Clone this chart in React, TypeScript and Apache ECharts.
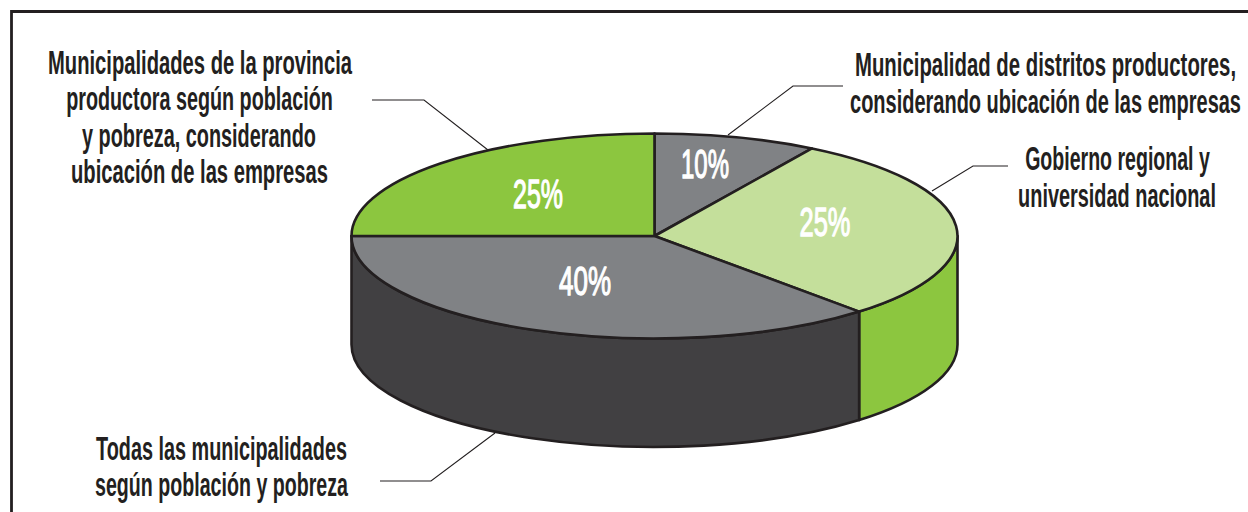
import React, { useEffect, useRef } from "react";
import * as echarts from "echarts";

// Printed percentages, as the labels read
const categories = [
  "Municipalidad de distritos productores",
  "Gobierno regional y universidad nacional",
  "Todas las municipalidades",
  "Municipalidades de la provincia",
];
const percentLabels = ["10%", "25%", "40%", "25%"];
// Slice shares as actually drawn in the picture (the drawing is not to scale)
const drawnShares = [8.7, 29.5, 36.8, 25];

const callout1 = ["Municipalidades de la provincia", "productora según población", "y pobreza, considerando", "ubicación de las empresas"];
const callout2 = ["Municipalidad de distritos productores,", "considerando ubicación de las empresas"];
const callout3 = ["Gobierno regional y", "universidad nacional"];
const callout4 = ["Todas las municipalidades", "según población y pobreza"];

const INK = "#231f20";
const topColors = ["#808285", "#c4df9b", "#808285", "#8cc63f"];
const sideColors = ["#808285", "#8cc63f", "#414042", "#8cc63f"];
const CX = 654.5, CY = 236, RX = 303, RY = 102.5, DEPTH = 108.5;
const FONT = '"Liberation Sans Narrow", "Liberation Sans", sans-serif';

// [centerX, baseline, width] per line
const calloutLayout: [string[], [number, number, number][]][] = [
  [callout1, [[200, 74, 304], [199.5, 110, 267], [199, 146.5, 234], [199.5, 182.5, 257]]],
  [callout2, [[1045.5, 76, 381], [1045.5, 112.5, 391]]],
  [callout3, [[1117.5, 170, 185], [1117, 206.5, 198]]],
  [callout4, [[221.5, 460, 251], [221.5, 496, 253]]],
];
const percentLayout: [number, number, number][] = [
  [705, 178, 48],
  [825, 236, 51],
  [585, 295, 52],
  [538, 208, 50],
];
const leaders = [
  [[372, 100], [424, 100], [488, 150]],
  [[843, 86], [793, 86], [728, 135]],
  [[1008, 166], [973, 166], [932, 191]],
  [[380, 481], [431, 481], [495, 433]],
];

const measureCtx = document.createElement("canvas").getContext("2d")!;
function fit(text: string, font: string, width: number) {
  measureCtx.font = font;
  return width / measureCtx.measureText(text).width;
}
const pt = (t: number, dy = 0): [number, number] => [CX + RX * Math.sin(t), CY - RY * Math.cos(t) + dy];

function renderItem(params: any, api: any) {
  const i = params.dataIndex;
  const total = drawnShares.reduce((a, b) => a + b, 0);
  const before = drawnShares.slice(0, i).reduce((a, b) => a + b, 0);
  const t1 = (before / total) * Math.PI * 2;
  const t2 = ((before + api.value(0)) / total) * Math.PI * 2;
  const [x1, y1] = pt(t1);
  const [x2, y2] = pt(t2);
  const large = t2 - t1 > Math.PI ? 1 : 0;
  const children: any[] = [];
  // Visible wall: the part of the arc on the front half of the ellipse
  const s1 = Math.max(t1, Math.PI / 2);
  const s2 = Math.min(t2, (Math.PI * 3) / 2);
  if (s2 > s1) {
    const [a, b] = pt(s1);
    const [c, d] = pt(s2);
    children.push({
      type: "path",
      z2: 1,
      shape: { pathData: `M${a} ${b}A${RX} ${RY} 0 0 1 ${c} ${d}L${c} ${d + DEPTH}A${RX} ${RY} 0 0 0 ${a} ${b + DEPTH}Z` },
      style: { fill: sideColors[i], stroke: INK, lineWidth: 2.6, lineJoin: "round" },
    });
  }
  children.push({
    type: "path",
    z2: 2,
    shape: { pathData: `M${CX} ${CY}L${x1} ${y1}A${RX} ${RY} 0 ${large} 1 ${x2} ${y2}Z` },
    style: { fill: topColors[i], stroke: INK, lineWidth: 2.6, lineJoin: "round" },
  });
  const [lx, ly, lw] = percentLayout[i];
  const fs = 41;
  const font = `${fs}px ${FONT}`;
  children.push({
    type: "text",
    z2: 3,
    x: lx,
    y: ly - 0.346 * fs,
    scaleX: fit(percentLabels[i], font, lw),
    style: { text: percentLabels[i], font, fill: "#ffffff", stroke: "#ffffff", lineWidth: 1.3, align: "center", verticalAlign: "middle" },
  });
  return { type: "group", children };
}

export default function App() {
  const ref = useRef<HTMLDivElement>(null);
  useEffect(() => {
    document.body.style.margin = "0";
    document.body.style.background = "#fff";
    const chart = echarts.init(ref.current!, undefined, { renderer: "svg" });
    const fs = 33;
    const font = `bold ${fs}px ${FONT}`;
    const texts: any[] = [];
    calloutLayout.forEach(([lines, pos]) =>
      lines.forEach((line, k) => {
        const [x, base, w] = pos[k];
        texts.push({
          type: "text",
          x,
          y: base - 0.346 * fs,
          scaleX: fit(line, font, w),
          style: { text: line, font, fill: INK, align: "center", verticalAlign: "middle" },
        });
      })
    );
    chart.setOption({
      animation: false,
      backgroundColor: "#ffffff",
      graphic: [
        {
          type: "polyline",
          shape: { points: [[11.5, 512], [11.5, 11.5], [1248, 11.5]] },
          style: { fill: "none", stroke: INK, lineWidth: 2.8 },
        },
        ...leaders.map((points) => ({
          type: "polyline",
          shape: { points },
          style: { fill: "none", stroke: INK, lineWidth: 1.1 },
        })),
        ...texts,
      ],
      series: [
        {
          type: "custom",
          coordinateSystem: "none",
          renderItem,
          silent: true,
          data: categories.map((name, i) => ({ name, value: [drawnShares[i]] })),
        },
      ],
    });
    return () => chart.dispose();
  }, []);
  return <div ref={ref} style={{ width: 1248, height: 512 }} />;
}
